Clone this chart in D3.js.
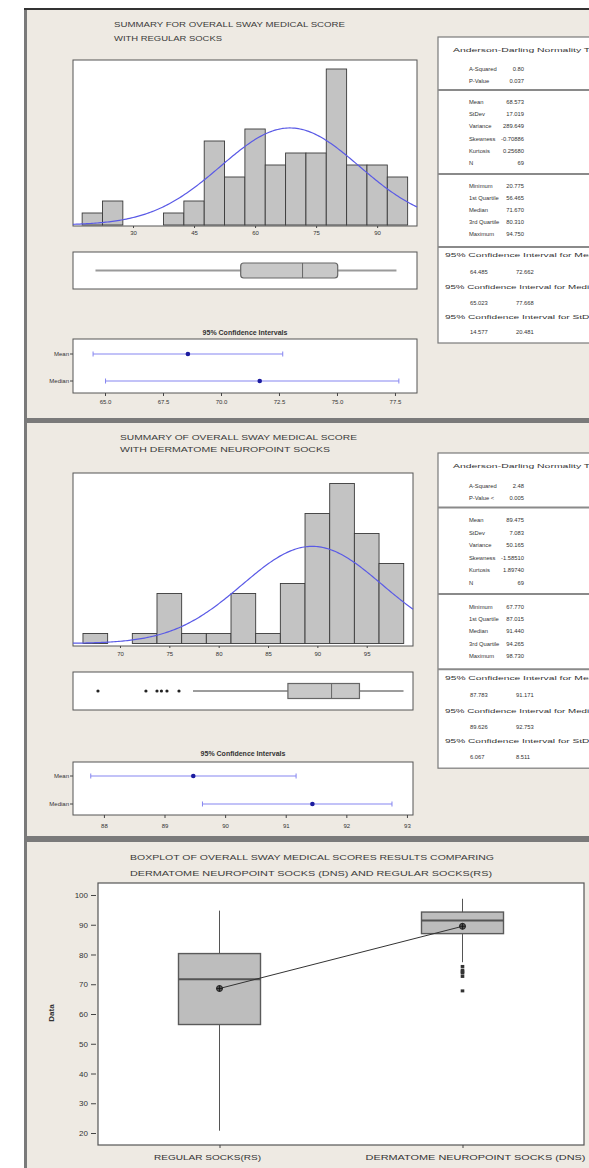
<!DOCTYPE html>
<html lang="en">
<head>
<meta charset="UTF-8">
<title>Overall Sway Medical Score - Summary</title>
<script src="https://d3js.org/d3.v7.min.js"></script>
<style>
  body { margin: 0; background: #fff; }
  svg { display: block; font-family: "Liberation Sans", Arial, sans-serif; }
  .ttl { fill: #3a3a3a; font-size: 7.5px; }
  .tick text { fill: #333; }
  .tab { fill: #333; font-size: 5.8px; }
</style>
</head>
<body>
<div id="chart"></div>
<script>
// ---- regular socks ----
var rsBins = [20, 25, 30, 35, 40, 45, 50, 55, 60, 65, 70, 75, 80, 85, 90, 95];
var rsCounts = [1, 2, 0, 0, 1, 2, 7, 4, 8, 5, 6, 6, 13, 5, 5, 4];
var rsTicks = [30, 45, 60, 75, 90];
var rsMean = 68.573, rsSd = 17.019, rsN = 69;
var rsFive = [20.775, 56.465, 71.670, 80.310, 94.750];   // min q1 med q3 max
var rsWhiskers = [20.775, 94.750];
var rsOutliers = [];
var rsMeanCI = [64.485, 72.662];
var rsMedianCI = [65.023, 77.668];
var rsCiTicks = [65.0, 67.5, 70.0, 72.5, 75.0, 77.5];
var rsTest = [["A-Squared", "0.80"], ["P-Value", "0.037"]];
var rsDesc = [["Mean", "68.573"], ["StDev", "17.019"], ["Variance", "289.649"], ["Skewness", "-0.70886"], ["Kurtosis", "0.25680"], ["N", "69"]];
var rsQuart = [["Minimum", "20.775"], ["1st Quartile", "56.465"], ["Median", "71.670"], ["3rd Quartile", "80.310"], ["Maximum", "94.750"]];
var rsCiText = [["64.485", "72.662"], ["65.023", "77.668"], ["14.577", "20.481"]];

// ---- dermatome neuropoint socks ----
var dnsBins = [67.5, 70, 72.5, 75, 77.5, 80, 82.5, 85, 87.5, 90, 92.5, 95, 97.5];
var dnsCounts = [1, 0, 1, 5, 1, 1, 5, 1, 6, 13, 16, 11, 8];
var dnsTicks = [70, 75, 80, 85, 90, 95];
var dnsMean = 89.475, dnsSd = 7.083, dnsN = 69;
var dnsFive = [67.770, 87.015, 91.440, 94.265, 98.730];
var dnsWhiskers = [77.4, 98.730];
var dnsOutliers = [67.77, 72.63, 73.75, 74.2, 74.76, 75.98];
var dnsMeanCI = [87.783, 91.171];
var dnsMedianCI = [89.626, 92.753];
var dnsCiTicks = [88, 89, 90, 91, 92, 93];
var dnsTest = [["A-Squared", "2.48"], ["P-Value <", "0.005"]];
var dnsDesc = [["Mean", "89.475"], ["StDev", "7.083"], ["Variance", "50.165"], ["Skewness", "-1.58510"], ["Kurtosis", "1.89740"], ["N", "69"]];
var dnsQuart = [["Minimum", "67.770"], ["1st Quartile", "87.015"], ["Median", "91.440"], ["3rd Quartile", "94.265"], ["Maximum", "98.730"]];
var dnsCiText = [["87.783", "91.171"], ["89.626", "92.753"], ["6.067", "8.511"]];

var ciHeads = ["95% Confidence Interval for Mean", "95% Confidence Interval for Median", "95% Confidence Interval for StDev"];
var groups = ["REGULAR SOCKS(RS)", "DERMATOME NEUROPOINT SOCKS (DNS)"];
var dataTicks = [20, 30, 40, 50, 60, 70, 80, 90, 100];

var W = 589, H = 1168;
var svg = d3.select("#chart").append("svg").attr("width", W).attr("height", H);

// window frame and the three panels
svg.append("rect").attr("x", 24).attr("y", 8).attr("width", W - 24).attr("height", H - 8).attr("fill", "#7a7a7a");
svg.append("rect").attr("x", 24).attr("y", 8).attr("width", W - 24).attr("height", 2).attr("fill", "#333");
[[10, 408], [423, 413], [842, 326]].forEach(function(p) {
    svg.append("rect").attr("x", 27).attr("y", p[0]).attr("width", W - 27).attr("height", p[1]).attr("fill", "#eeeae3");
});

function styleAxis(a, size) {
    a.select(".domain").remove();
    a.selectAll(".tick line").attr("stroke", "#444");
    a.selectAll(".tick text").attr("font-size", size);
}

function summary(c) {
    var g = svg.append("g");
    c.title.forEach(function(t, i) {
        g.append("text").attr("class", "ttl").attr("x", c.titleX).attr("y", c.titleY[i])
         .attr("textLength", c.titleLen[i]).attr("lengthAdjust", "spacingAndGlyphs").text(t);
    });

    var L = 73, R = c.right;
    var x = d3.scaleLinear().domain(c.xDomain).range([L, R]);
    var y = d3.scaleLinear().domain([0, c.yMax]).range([c.base, c.hist[0]]);

    // histogram
    g.append("rect").attr("x", L).attr("y", c.hist[0]).attr("width", R - L).attr("height", c.hist[1] - c.hist[0])
     .attr("fill", "#fff").attr("stroke", "#555");
    var bars = c.bins.map(function(b, i) { return {mid: b, n: c.counts[i]}; }).filter(function(d) { return d.n > 0; });
    g.selectAll(".bar").data(bars).enter().append("rect")
     .attr("x", function(d) { return x(d.mid - c.bw / 2); })
     .attr("width", function(d) { return x(d.mid + c.bw / 2) - x(d.mid - c.bw / 2); })
     .attr("y", function(d) { return y(d.n); })
     .attr("height", function(d) { return y(0) - y(d.n); })
     .attr("fill", "#c3c3c3").attr("stroke", "#3a3a3a").attr("stroke-width", 0.9);

    // fitted normal curve from the mean and stdev
    var pts = d3.range(c.xDomain[0], c.xDomain[1] + 0.01, (c.xDomain[1] - c.xDomain[0]) / 200).map(function(v) {
        var z = (v - c.mean) / c.sd;
        return [v, c.n * c.bw * Math.exp(-0.5 * z * z) / (c.sd * Math.sqrt(2 * Math.PI))];
    });
    g.append("path").datum(pts)
     .attr("d", d3.line().x(function(d) { return x(d[0]); }).y(function(d) { return y(d[1]); }))
     .attr("fill", "none").attr("stroke", "#5a5ae6").attr("stroke-width", 1.2);

    var ax = g.append("g").attr("transform", "translate(0," + c.hist[1] + ")")
              .call(d3.axisBottom(x).tickValues(c.ticks).tickSize(2).tickPadding(c.tickPad).tickFormat(d3.format("d")));
    styleAxis(ax, 6);

    // boxplot
    var bf = c.box, by = (bf[0] + bf[1]) / 2;
    g.append("rect").attr("x", L).attr("y", bf[0]).attr("width", R - L).attr("height", bf[1] - bf[0])
     .attr("fill", "#fff").attr("stroke", "#555");
    g.append("line").attr("x1", x(c.whisk[0])).attr("x2", x(c.five[1])).attr("y1", by).attr("y2", by)
     .attr("stroke", c.whiskColor).attr("stroke-width", c.whiskW);
    g.append("line").attr("x1", x(c.five[3])).attr("x2", x(c.whisk[1])).attr("y1", by).attr("y2", by)
     .attr("stroke", c.whiskColor).attr("stroke-width", c.whiskW);
    g.append("rect").attr("x", x(c.five[1])).attr("y", by - 7.5).attr("width", x(c.five[3]) - x(c.five[1])).attr("height", 15)
     .attr("rx", c.boxRx).attr("fill", "#c8c8c8").attr("stroke", "#666").attr("stroke-width", 1.2);
    g.append("line").attr("x1", x(c.five[2])).attr("x2", x(c.five[2])).attr("y1", by - 7.5).attr("y2", by + 7.5)
     .attr("stroke", "#666").attr("stroke-width", 1);
    g.selectAll(".out").data(c.outliers).enter().append("circle")
     .attr("cx", function(d) { return x(d); }).attr("cy", by).attr("r", 1.6).attr("fill", "#222");

    // confidence intervals
    var xc = d3.scaleLinear().domain(c.ciDomain).range([L, R]);
    g.append("text").attr("x", (L + R) / 2).attr("y", c.ciTitleY).attr("text-anchor", "middle")
     .attr("font-size", 7).attr("font-weight", "bold").attr("fill", "#333").text("95% Confidence Intervals");
    g.append("rect").attr("x", L).attr("y", c.ci[0]).attr("width", R - L).attr("height", c.ci[1] - c.ci[0])
     .attr("fill", "#fff").attr("stroke", "#555");
    var rows = [{name: "Mean", iv: c.meanCI, v: c.mean, y: c.ciRows[0]},
                {name: "Median", iv: c.medianCI, v: c.five[2], y: c.ciRows[1]}];
    rows.forEach(function(r) {
        g.append("line").attr("x1", xc(r.iv[0])).attr("x2", xc(r.iv[1])).attr("y1", r.y).attr("y2", r.y)
         .attr("stroke", "#8585f0").attr("stroke-width", 1);
        r.iv.forEach(function(e) {
            g.append("line").attr("x1", xc(e)).attr("x2", xc(e)).attr("y1", r.y - 2.5).attr("y2", r.y + 2.5)
             .attr("stroke", "#8585f0");
        });
        g.append("circle").attr("cx", xc(r.v)).attr("cy", r.y).attr("r", 2.3).attr("fill", "#1c1ca0");
        g.append("line").attr("x1", L - 3).attr("x2", L).attr("y1", r.y).attr("y2", r.y).attr("stroke", "#444");
        g.append("text").attr("x", L - 4).attr("y", r.y).attr("dy", "0.35em").attr("text-anchor", "end")
         .attr("font-size", 6).attr("fill", "#333").text(r.name);
    });
    var ac = g.append("g").attr("transform", "translate(0," + c.ci[1] + ")")
              .call(d3.axisBottom(xc).tickValues(c.ciTicks).tickSize(3).tickPadding(c.ciPad).tickFormat(d3.format(c.ciFmt)));
    styleAxis(ac, 6);

    // statistics table
    var t0 = c.tableTop, k = c.tableScale;
    function ty(v) { return t0 + v * k; }
    g.append("rect").attr("x", 438).attr("y", t0).attr("width", 170).attr("height", 306 * k)
     .attr("fill", "#fff").attr("stroke", "#7a7a7a").attr("stroke-width", 1.2);
    [53, 137, 210].forEach(function(s) {
        g.append("line").attr("x1", 438).attr("x2", W).attr("y1", ty(s)).attr("y2", ty(s))
         .attr("stroke", "#8a8a8a").attr("stroke-width", 2);
    });
    g.append("text").attr("class", "tab").attr("x", 453).attr("y", ty(13)).attr("dy", "0.35em")
     .attr("textLength", 150).attr("lengthAdjust", "spacingAndGlyphs").text("Anderson-Darling Normality Test");
    var pairs = c.test.map(function(p, i) { return {p: p, y: [32, 44][i]}; })
        .concat(c.desc.map(function(p, i) { return {p: p, y: 65 + i * 12.2}; }))
        .concat(c.quart.map(function(p, i) { return {p: p, y: 149 + i * 12}; }));
    pairs.forEach(function(d) {
        g.append("text").attr("class", "tab").attr("x", 469).attr("y", ty(d.y)).attr("dy", "0.35em").text(d.p[0]);
        g.append("text").attr("class", "tab").attr("x", 524).attr("y", ty(d.y)).attr("dy", "0.35em")
         .attr("text-anchor", "end").text(d.p[1]);
    });
    ciHeads.forEach(function(h, i) {
        var hy = [218, 250, 280][i], vy = [235, 266, 295][i];
        g.append("text").attr("class", "tab").attr("x", 445).attr("y", ty(hy)).attr("dy", "0.35em")
         .attr("textLength", 155).attr("lengthAdjust", "spacingAndGlyphs").text(h);
        g.append("text").attr("class", "tab").attr("x", 470).attr("y", ty(vy)).attr("dy", "0.35em").text(c.ciText[i][0]);
        g.append("text").attr("class", "tab").attr("x", 516).attr("y", ty(vy)).attr("dy", "0.35em").text(c.ciText[i][1]);
    });
}

summary({
    title: ["SUMMARY FOR OVERALL SWAY MEDICAL SCORE", "WITH REGULAR SOCKS"],
    titleX: 114, titleY: [27, 41], titleLen: [231, 108],
    right: 417, xDomain: [15.25, 99.8], hist: [60, 226], base: 225, yMax: 13.75,
    bins: rsBins, counts: rsCounts, bw: 5, ticks: rsTicks, tickPad: 3,
    mean: rsMean, sd: rsSd, n: rsN,
    box: [252, 289], five: rsFive, whisk: rsWhiskers, outliers: rsOutliers,
    whiskColor: "#9a9a9a", whiskW: 2, boxRx: 3,
    ciDomain: [63.62, 78.45], ciTitleY: 334.5, ci: [339, 393], ciRows: [354, 381],
    meanCI: rsMeanCI, medianCI: rsMedianCI, ciTicks: rsCiTicks, ciPad: 4, ciFmt: ".1f",
    tableTop: 37, tableScale: 1, test: rsTest, desc: rsDesc, quart: rsQuart, ciText: rsCiText
});

summary({
    title: ["SUMMARY OF OVERALL SWAY MEDICAL SCORE", "WITH DERMATOME NEUROPOINT SOCKS"],
    titleX: 120, titleY: [439.5, 451.5], titleLen: [237, 210],
    right: 413, xDomain: [65.24, 99.69], hist: [473, 646], base: 643.5, yMax: 17.05,
    bins: dnsBins, counts: dnsCounts, bw: 2.5, ticks: dnsTicks, tickPad: 4,
    mean: dnsMean, sd: dnsSd, n: dnsN,
    box: [672, 710], five: dnsFive, whisk: dnsWhiskers, outliers: dnsOutliers,
    whiskColor: "#3a3a3a", whiskW: 1, boxRx: 0,
    ciDomain: [87.49, 93.1], ciTitleY: 755.5, ci: [762, 815], ciRows: [776, 804],
    meanCI: dnsMeanCI, medianCI: dnsMedianCI, ciTicks: dnsCiTicks, ciPad: 6, ciFmt: "d",
    tableTop: 453, tableScale: 1.03, test: dnsTest, desc: dnsDesc, quart: dnsQuart, ciText: dnsCiText
});

// ---- boxplot comparing both groups ----
var p3 = svg.append("g");
p3.append("text").attr("class", "ttl").attr("x", 130).attr("y", 860).attr("textLength", 364)
  .attr("lengthAdjust", "spacingAndGlyphs").text("BOXPLOT OF OVERALL SWAY MEDICAL SCORES RESULTS COMPARING");
p3.append("text").attr("class", "ttl").attr("x", 130).attr("y", 876).attr("textLength", 362)
  .attr("lengthAdjust", "spacingAndGlyphs").text("DERMATOME NEUROPOINT SOCKS (DNS) AND REGULAR SOCKS(RS)");

var fx = d3.scalePoint().domain(groups).range([98, 584]).padding(0.5);
var fy = d3.scaleLinear().domain([15.97, 104.03]).range([1145, 883]);
p3.append("rect").attr("x", 98).attr("y", 883).attr("width", 486).attr("height", 262)
  .attr("fill", "#fff").attr("stroke", "#555").attr("stroke-width", 1.2);

var ya = p3.append("g").attr("transform", "translate(96,0)")
           .call(d3.axisLeft(fy).tickValues(dataTicks).tickSize(5).tickPadding(3));
styleAxis(ya, 8);
p3.append("text").attr("transform", "translate(54,1013) rotate(-90)").attr("text-anchor", "middle")
  .attr("font-size", 8).attr("font-weight", "bold").attr("fill", "#333").text("Data");

var xa = p3.append("g").attr("transform", "translate(0,1145)")
           .call(d3.axisBottom(fx).tickSize(3).tickFormat(""));
styleAxis(xa, 8);
var labelDx = [-12, 13], labelLen = [107, 220];
groups.forEach(function(gname, i) {
    p3.append("text").attr("x", fx(gname) + labelDx[i]).attr("y", 1160).attr("text-anchor", "middle")
      .attr("font-size", 7.5).attr("fill", "#333").attr("textLength", labelLen[i])
      .attr("lengthAdjust", "spacingAndGlyphs").text(gname);
});

var sets = [{five: rsFive, whisk: rsWhiskers, out: rsOutliers, mean: rsMean},
            {five: dnsFive, whisk: dnsWhiskers, out: dnsOutliers, mean: dnsMean}];
sets.forEach(function(s, i) {
    var cx = fx(groups[i]), hw = 41;
    p3.append("line").attr("x1", cx).attr("x2", cx).attr("y1", fy(s.whisk[0])).attr("y2", fy(s.whisk[1]))
      .attr("stroke", "#555").attr("stroke-width", 1);
    p3.append("rect").attr("x", cx - hw).attr("width", hw * 2).attr("y", fy(s.five[3]))
      .attr("height", fy(s.five[1]) - fy(s.five[3]))
      .attr("fill", "#bdbdbd").attr("stroke", "#5a5a5a").attr("stroke-width", 1.4);
    p3.append("line").attr("x1", cx - hw).attr("x2", cx + hw).attr("y1", fy(s.five[2])).attr("y2", fy(s.five[2]))
      .attr("stroke", "#555").attr("stroke-width", 2);
    p3.selectAll(null).data(s.out).enter().append("rect")
      .attr("x", cx - 1.8).attr("width", 3.6).attr("y", function(d) { return fy(d) - 1.5; }).attr("height", 3)
      .attr("fill", "#333");
});

// mean connect line and mean symbols
p3.append("path").datum(sets)
  .attr("d", d3.line().x(function(d, i) { return fx(groups[i]); }).y(function(d) { return fy(d.mean); }))
  .attr("fill", "none").attr("stroke", "#333").attr("stroke-width", 1);
sets.forEach(function(s, i) {
    var cx = fx(groups[i]), cy = fy(s.mean);
    p3.append("circle").attr("cx", cx).attr("cy", cy).attr("r", 3).attr("fill", "#555").attr("stroke", "#222");
    p3.append("path").attr("d", "M" + (cx - 3) + "," + cy + "h6M" + cx + "," + (cy - 3) + "v6")
      .attr("stroke", "#111").attr("stroke-width", 0.8);
});
</script>
</body>
</html>
